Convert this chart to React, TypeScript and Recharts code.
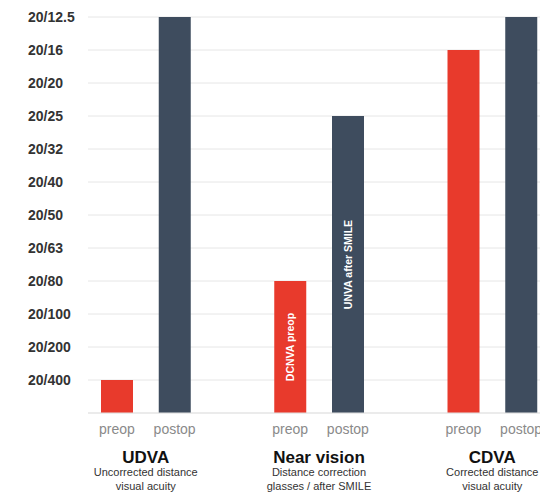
import React from 'react';
import { BarChart, Bar, XAxis, YAxis, CartesianGrid, Cell, LabelList } from 'recharts';

// acuity levels, bottom to top
const acuityTicks = ['20/400', '20/200', '20/100', '20/80', '20/63', '20/50', '20/40', '20/32', '20/25', '20/20', '20/16', '20/12.5'];

const groupNames = ['UDVA', 'Near vision', 'CDVA'];
const groupSubtitles = [
    ['Uncorrected distance', 'visual acuity'],
    ['Distance correction', 'glasses / after SMILE'],
    ['Corrected distance', 'visual acuity'],
];
const preopAcuity = ['20/400', '20/80', '20/16'];
const postopAcuity = ['20/12.5', '20/25', '20/12.5'];
const preopNotes = ['', 'DCNVA preop', ''];
const postopNotes = ['', 'UNVA after SMILE', ''];
const barLabels = ['preop', 'postop'];

const RED = '#e83a2c';
const SLATE = '#3e4c5e';
const FONT = '"Liberation Sans", Arial, Helvetica, sans-serif';

const CHART_W = 550;
const CHART_H = 493;
const Y_AXIS_W = 88;

const level = (a: string) => acuityTicks.indexOf(a) + 1;

interface Row {
    name: string;
    value: number | null;
    note: string;
    kind: 'preop' | 'postop' | 'gap';
    group: number;
}

const data: Row[] = [];
groupNames.forEach((g, i) => {
    data.push({ name: barLabels[0], value: level(preopAcuity[i]), note: preopNotes[i], kind: 'preop', group: i });
    data.push({ name: barLabels[1], value: level(postopAcuity[i]), note: postopNotes[i], kind: 'postop', group: i });
    if (i < groupNames.length - 1) data.push({ name: '', value: null, note: '', kind: 'gap', group: i });
});

const slotWidth = (CHART_W - Y_AXIS_W) / data.length;

const YTick = (props: any) => {
    const { y, payload } = props;
    return (
        <text x={28} y={y} dy="0.36em" textAnchor="start" fill="#333" fontSize={14} fontWeight="bold" fontFamily={FONT}>
            {acuityTicks[payload.value - 1]}
        </text>
    );
};

const XTick = (props: any) => {
    const { x, y, payload, index } = props;
    const row = data[index];
    if (!row || row.kind === 'gap') return <g />;
    const cx = x + slotWidth / 2;
    return (
        <g>
            <text x={x} y={y} dy={13} textAnchor="middle" fill="#8a8a8a" fontSize={14} fontFamily={FONT}>
                {payload.value}
            </text>
            {row.kind === 'preop' && (
                <g>
                    <text x={cx} y={y + 42} textAnchor="middle" fill="#111" fontSize={17} fontWeight="bold" fontFamily={FONT}>
                        {groupNames[row.group]}
                    </text>
                    {groupSubtitles[row.group].map((s, k) => (
                        <text key={k} x={cx} y={y + 55 + k * 14} textAnchor="middle" fill="#333" fontSize={11} fontFamily={FONT}>
                            {s}
                        </text>
                    ))}
                </g>
            )}
        </g>
    );
};

// vertical note written inside the bar, centred
const NoteLabel = (props: any) => {
    const { x, y, width, height, value } = props;
    if (!value) return null;
    const cx = x + width / 2;
    const cy = y + height / 2;
    return (
        <text
            x={cx}
            y={cy}
            dy="0.36em"
            textAnchor="middle"
            transform={`rotate(-90, ${cx}, ${cy})`}
            fill="#fff"
            fontSize={10.5}
            fontWeight="bold"
            fontFamily={FONT}
        >
            {value}
        </text>
    );
};

export default function App() {
    return (
        <div style={{ position: 'absolute', left: 0, top: 0, width: 540, height: 493, overflow: 'hidden', background: '#fff' }}>
            <BarChart width={CHART_W} height={CHART_H} data={data} margin={{ top: 17, right: 0, bottom: 0, left: 0 }}>
                <CartesianGrid vertical={false} stroke="#e6e6e6" />
                <XAxis
                    dataKey="name"
                    height={80}
                    axisLine={{ stroke: '#e3e3e3' }}
                    tickLine={false}
                    interval={0}
                    tick={<XTick />}
                />
                <YAxis
                    type="number"
                    domain={[0, 12]}
                    ticks={[1, 2, 3, 4, 5, 6, 7, 8, 9, 10, 11, 12]}
                    width={Y_AXIS_W}
                    axisLine={false}
                    tickLine={false}
                    tick={<YTick />}
                />
                <Bar dataKey="value" barSize={32} isAnimationActive={false}>
                    {data.map((d, i) => (
                        <Cell key={i} fill={d.kind === 'preop' ? RED : SLATE} />
                    ))}
                    <LabelList dataKey="note" content={<NoteLabel />} />
                </Bar>
            </BarChart>
        </div>
    );
}
